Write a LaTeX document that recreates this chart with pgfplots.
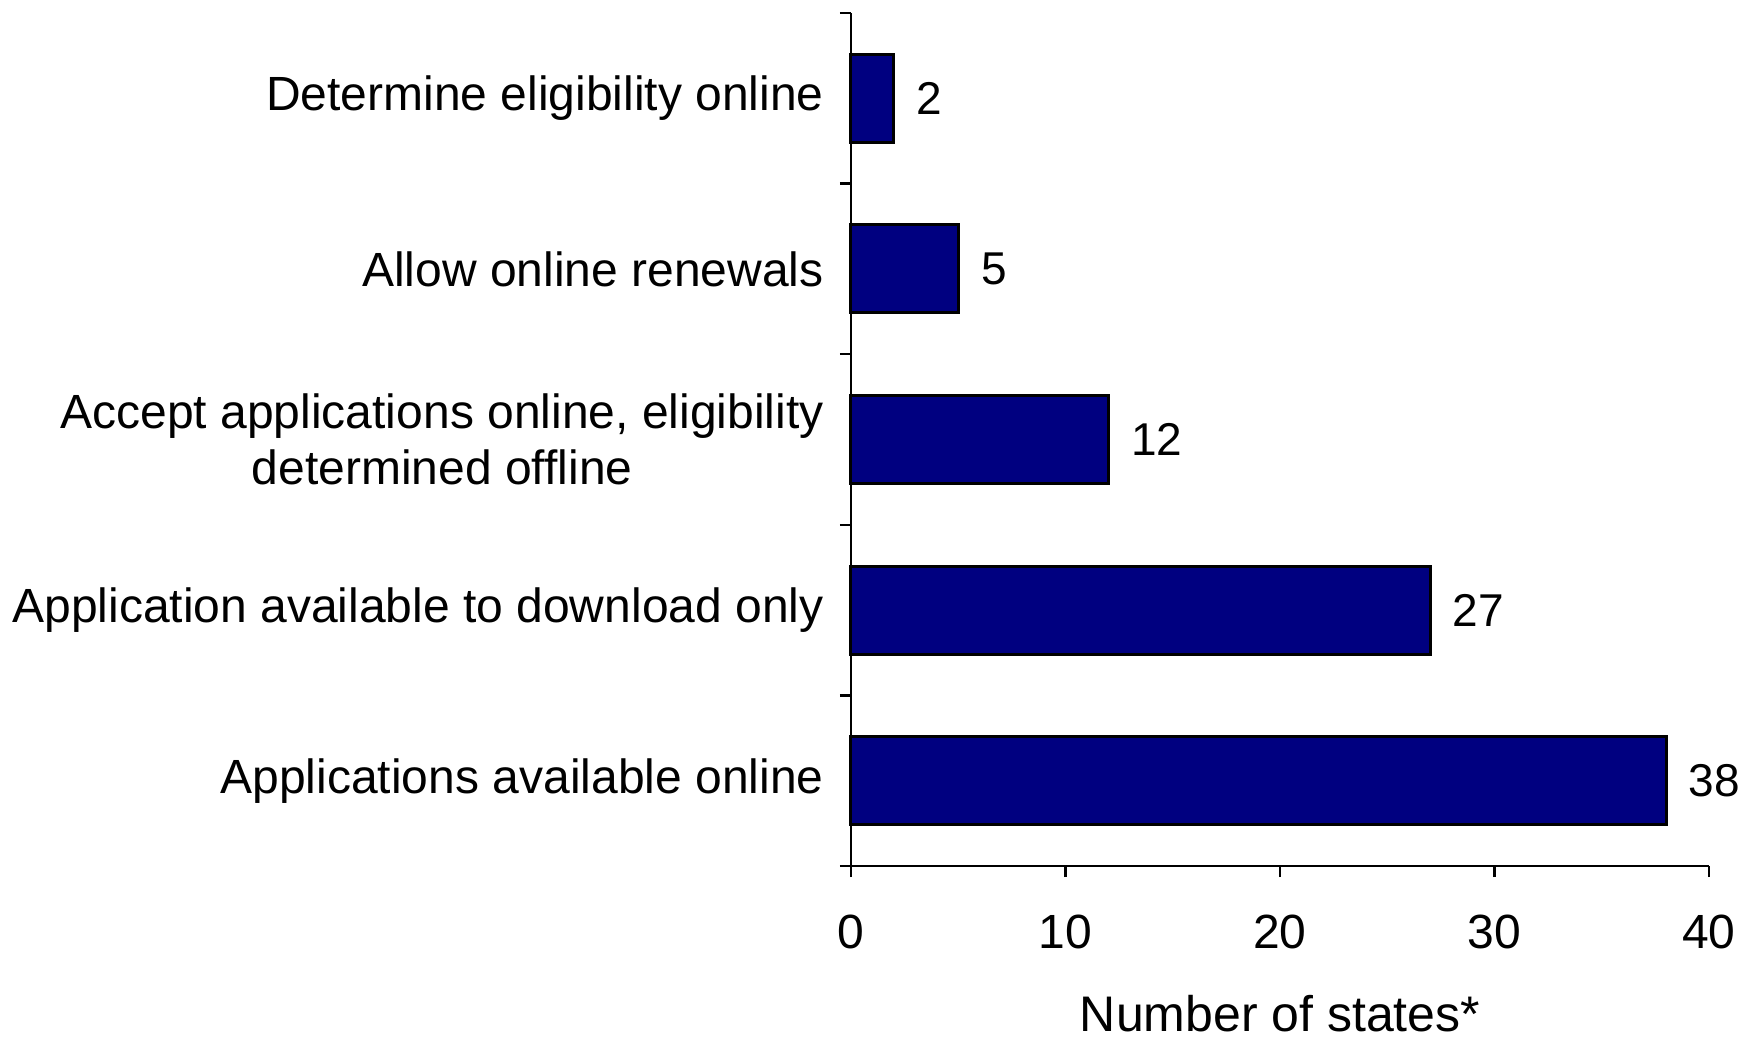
\documentclass[border=0pt]{standalone}
\usepackage{fontspec}
\setmainfont{Liberation Sans}
\usepackage{pgfplots}
\pgfplotsset{compat=1.18}
\usetikzlibrary{calc}
\definecolor{barnavy}{RGB}{0,0,128}

\begin{document}
\begin{tikzpicture}
\begin{axis}[
  scale only axis,
  width=214.5pt, height=213.25pt,
  xbar, bar width=22pt,
  axis lines*=left,
  axis line style={line width=0.6pt},
  xmin=0, xmax=40,
  ymin=0.5, ymax=5.5,
  xtick={0,10,20,30,40},
  ytick={1,2,3,4,5},
  yticklabels={Applications available online,
    Application available to download only,
    {Accept applications online, eligibility\\determined offline},
    Allow online renewals,
    Determine eligibility online},
  minor ytick={0.5,1.5,2.5,3.5,4.5,5.5},
  major y tick style={draw=none},
  minor tick length=2.8pt,
  major tick length=2.8pt,
  tick align=outside,
  tick style={black, line width=0.6pt},
  xtick pos=bottom, ytick pos=left,
  every tick label/.append style={font=\fontsize{12}{14}\selectfont},
  /pgf/number format/assume math mode=true,
  yticklabel style={align=center, xshift=-0.5pt},
  xticklabel style={yshift=-5.8pt},
  xlabel={Number of states*},
  xlabel style={font=\fontsize{12.5}{14}\selectfont, yshift=-4.8pt},
  nodes near coords,
  nodes near coords style={font=\fontsize{11.5}{14}\selectfont, xshift=2pt, black},
  clip=false,
]
\addplot[fill=barnavy, draw=black, line width=0.75pt] coordinates {
  (38,1) (27,2) (12,3) (5,4) (2,5)
};
\end{axis}
\pgfresetboundingbox
\path[use as bounding box] ($(current axis.north west)+(-212.75pt,3.25pt)$)
  rectangle ($(current axis.south east)+(8.25pt,-42.75pt)$);
\end{tikzpicture}
\end{document}
